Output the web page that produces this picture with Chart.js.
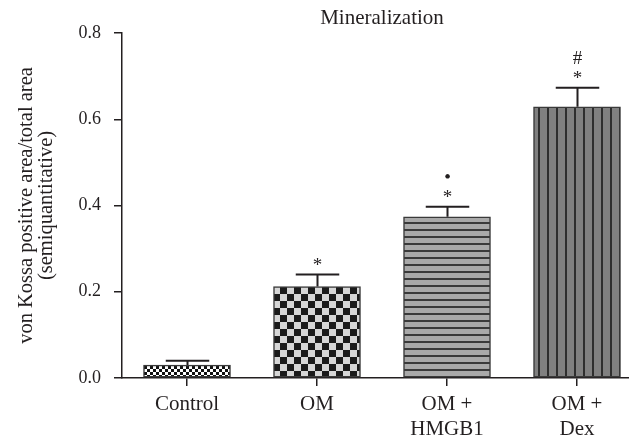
<!DOCTYPE html>
<html><head><meta charset="utf-8">
<script src="https://cdn.jsdelivr.net/npm/chart.js@4"></script>
<style>html,body{margin:0;padding:0;background:#fff}</style>
</head><body>
<canvas id="c" width="629" height="439"></canvas>
<script>
// ---- data ----
const categories = [['Control'], ['OM'], ['OM +', 'HMGB1'], ['OM +', 'Dex']];
const meanValues = [0.030, 0.212, 0.374, 0.629];
const errorValues = [0.010, 0.028, 0.023, 0.044];
const significance = [[], ['*'], ['*', '\u2022'], ['*', '#']];
const yTicks = [0, 0.2, 0.4, 0.6, 0.8];
const chartTitle = 'Mineralization';
const yTitle = ['von Kossa positive area/total area', '(semiquantitative)'];

const FAMILY = '"Liberation Serif", "Times New Roman", serif';
const INK = '#231f20';

const canvas = document.getElementById('c');
const ctx = canvas.getContext('2d');

function makePattern(w, h, draw) {
  const c = document.createElement('canvas');
  c.width = w; c.height = h;
  const g = c.getContext('2d');
  draw(g, w, h);
  return ctx.createPattern(c, 'repeat');
}
const patterns = [
  makePattern(6, 6, (g) => { g.fillStyle = '#fff'; g.fillRect(0,0,6,6); g.fillStyle = '#111'; g.fillRect(0,0,3,3); g.fillRect(3,3,3,3); }),
  makePattern(14, 14, (g) => { g.fillStyle = '#d6d6d6'; g.fillRect(0,0,14,14); g.fillStyle = '#1b1b1b'; g.fillRect(7,0,7,7); g.fillRect(0,7,7,7); }),
  makePattern(4, 7, (g) => { g.fillStyle = '#a9a9a9'; g.fillRect(0,0,4,7); g.fillStyle = '#3a3a3a'; g.fillRect(0,5,4,2); }),
  makePattern(9, 4, (g) => { g.fillStyle = '#808080'; g.fillRect(0,0,9,4); g.fillStyle = '#2e2e2e'; g.fillRect(7,0,2,4); })
];

const annotatePlugin = {
  id: 'annot',
  afterDatasetsDraw(chart) {
    const c = chart.ctx;
    const ys = chart.scales.y;
    const meta = chart.getDatasetMeta(0);
    c.save();
    c.strokeStyle = INK;
    c.lineWidth = 2;
    meta.data.forEach((bar, i) => {
      const x = Math.round(bar.x) + 0.5;
      const yTop = ys.getPixelForValue(meanValues[i]);
      const yCap = ys.getPixelForValue(meanValues[i] + errorValues[i]);
      const half = bar.width / 4;
      c.beginPath();
      c.moveTo(x, yTop); c.lineTo(x, yCap);
      c.moveTo(x - half, yCap); c.lineTo(x + half, yCap);
      c.stroke();
      c.fillStyle = INK;
      c.font = '19px ' + FAMILY;
      c.textAlign = 'center';
      c.textBaseline = 'alphabetic';
      significance[i].forEach((s, j) => {
        const m = c.measureText(s);
        const cy = yCap - 13 - 17 * j;
        const by = cy + (m.actualBoundingBoxAscent - m.actualBoundingBoxDescent) / 2;
        c.fillText(s, x, by);
      });
    });
    // chart title centred over the plot's category range
    const xs = chart.scales.x;
    c.font = '21px ' + FAMILY;
    c.textAlign = 'center';
    c.textBaseline = 'middle';
    c.fillText(chartTitle, xs.getPixelForValue(1.5), 18);
    c.restore();
  }
};

new Chart(canvas, {
  type: 'bar',
  data: {
    datasets: [{
      data: meanValues.map((v, i) => ({ x: i, y: v })),
      backgroundColor: patterns,
      borderColor: '#3a3a3a',
      borderWidth: 1.5,
      borderSkipped: false,
      barThickness: 87
    }]
  },
  options: {
    responsive: false,
    devicePixelRatio: 1,
    animation: false,
    layout: { padding: { top: 33, left: 0, right: 0, bottom: 0 } },
    plugins: { legend: { display: false }, tooltip: { enabled: false }, title: { display: false } },
    scales: {
      x: {
        type: 'linear',
        offset: false,
        min: -0.5,
        max: 3.4,
        afterBuildTicks: (s) => { s.ticks = categories.map((_, i) => ({ value: i })); },
        afterFit: (s) => { s.height = 61; },
        ticks: {
          callback: (v) => categories[v],
          color: INK,
          font: { family: FAMILY, size: 21, lineHeight: '25px' },
          padding: 6,
          maxRotation: 0,
          autoSkip: false
        },
        grid: { offset: false, drawOnChartArea: false, drawTicks: true, tickLength: 8, color: INK, lineWidth: 1.5 },
        border: { display: true, color: INK, width: 1.5 }
      },
      y: {
        min: 0,
        max: 0.8,
        afterBuildTicks: (s) => { s.ticks = yTicks.map((v) => ({ value: v })); },
        afterFit: (s) => { s.width = 122; },
        ticks: {
          callback: (v) => Number(v).toFixed(1),
          color: INK,
          font: { family: FAMILY, size: 18 },
          padding: 13
        },
        grid: { drawOnChartArea: false, drawTicks: true, tickLength: 8, color: INK, lineWidth: 1.5 },
        border: { display: true, color: INK, width: 1.5 },
        title: {
          display: true,
          text: yTitle,
          color: INK,
          font: { family: FAMILY, size: 20.5, lineHeight: '20px' },
          padding: { top: 17, bottom: 0 }
        }
      }
    }
  },
  plugins: [annotatePlugin]
});
</script>
</body></html>
